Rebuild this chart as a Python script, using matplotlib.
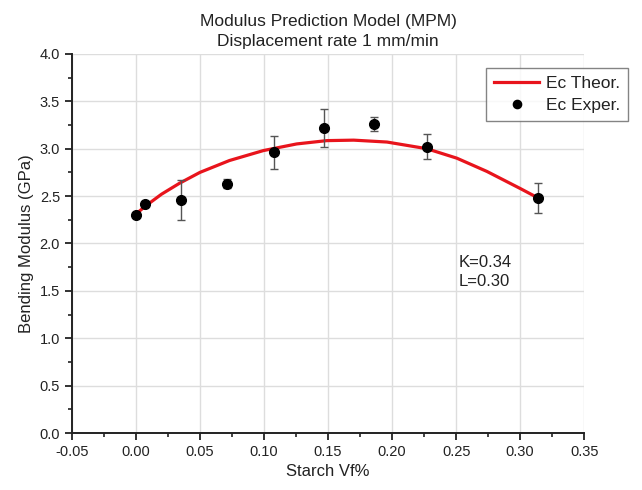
import matplotlib
matplotlib.use('Agg')
import matplotlib.pyplot as plt
from matplotlib.ticker import MultipleLocator, FormatStrFormatter

plt.rcParams['font.family'] = ['Liberation Sans', 'DejaVu Sans']

# theoretical curve
theor_x = [0.0, 0.007, 0.02, 0.034, 0.05, 0.073, 0.0995, 0.1255, 0.149, 0.17,
           0.196, 0.227, 0.2505, 0.274, 0.30, 0.314]
theor_y = [2.31, 2.39, 2.52, 2.635, 2.75, 2.875, 2.98, 3.05, 3.085, 3.09,
           3.07, 3.00, 2.90, 2.76, 2.58, 2.48]

# experimental points
exp_x = [0.0, 0.007, 0.035, 0.071, 0.108, 0.147, 0.186, 0.227, 0.314]
exp_y = [2.30, 2.42, 2.46, 2.63, 2.96, 3.22, 3.26, 3.02, 2.48]
exp_err = [0.0, 0.0, 0.21, 0.05, 0.17, 0.20, 0.07, 0.13, 0.16]

fig = plt.figure(figsize=(6.42, 4.90), dpi=100)
ax = fig.add_axes([0.112, 0.1163, 0.798, 0.7737])

theor_line, = ax.plot(theor_x, theor_y, color='#e8141c', lw=2.3, label='Ec Theor.',
                      zorder=3, solid_joinstyle='round')
eb = ax.errorbar(exp_x, exp_y, yerr=exp_err, fmt='o', color='black', ms=7,
                 ecolor='#555555', elinewidth=1, capsize=3, capthick=1,
                 label='Ec Exper.', zorder=4)

ax.set_xlim(-0.05, 0.35)
ax.set_ylim(0, 4.0)
ax.xaxis.set_major_locator(MultipleLocator(0.05))
ax.xaxis.set_minor_locator(MultipleLocator(0.025))
ax.yaxis.set_major_locator(MultipleLocator(0.5))
ax.yaxis.set_minor_locator(MultipleLocator(0.25))
ax.xaxis.set_major_formatter(FormatStrFormatter('%.2f'))
ax.yaxis.set_major_formatter(FormatStrFormatter('%.1f'))

for s in ['top', 'right']:
    ax.spines[s].set_visible(False)
for s in ['left', 'bottom']:
    ax.spines[s].set_linewidth(1.4)
    ax.spines[s].set_color('#222222')
ax.tick_params(which='major', direction='out', length=5, width=1.3, labelsize=10.5,
               colors='#222222')
ax.tick_params(which='minor', direction='out', length=3, width=1.2, colors='#222222')
ax.grid(True, which='major', color='#dddddd', lw=1)
ax.set_axisbelow(True)

ax.set_xlabel('Starch Vf%', fontsize=12, color='#222222')
ax.set_ylabel('Bending Modulus (GPa)', fontsize=12, color='#222222')
ax.set_title('Modulus Prediction Model (MPM)\nDisplacement rate 1 mm/min',
             fontsize=12.5, color='#222222', pad=6, linespacing=1.4)

ax.text(0.252, 1.88, 'K=0.34\nL=0.30', fontsize=12, color='#222222',
        va='top', ha='left', linespacing=1.35)

# legend: marker only for the experimental points (no error bar glyph)
leg = ax.legend([theor_line, eb[0]], ['Ec Theor.', 'Ec Exper.'],
                loc='upper right', bbox_to_anchor=(1.086, 0.963), fontsize=12.5,
                frameon=True, fancybox=False, edgecolor='#666666',
                borderpad=0.45, handlelength=2.6, handletextpad=0.4,
                labelspacing=0.4, borderaxespad=0, markerscale=0.85)
leg.get_frame().set_linewidth(1.0)
for t in leg.get_texts():
    t.set_color('#222222')

fig.savefig('out.png', dpi=100)
